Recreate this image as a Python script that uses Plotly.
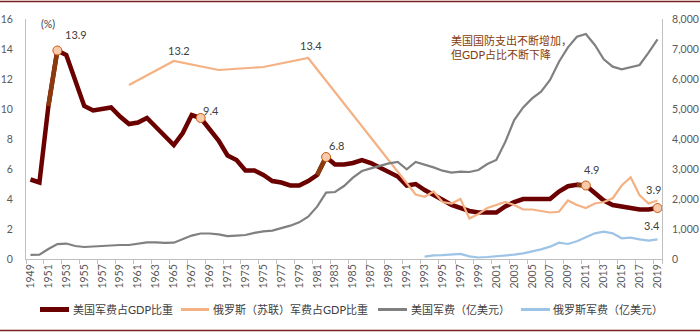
import plotly.graph_objects as go

# ---- data ----
years = list(range(1949, 2020))

# US military spending as share of GDP (%)
us_pct = [5.3, 5.1, 10.2, 13.9, 13.6, 11.9, 10.2, 9.9, 10.0, 10.1,
          9.5, 9.0, 9.1, 9.4, 8.8, 8.2, 7.6, 8.4, 9.6, 9.4,
          8.6, 7.9, 6.9, 6.6, 5.9, 5.9, 5.6, 5.2, 5.1, 4.9,
          4.9, 5.2, 5.6, 6.8, 6.3, 6.3, 6.4, 6.6, 6.4, 6.1,
          5.8, 5.5, 4.9, 5.0, 4.6, 4.3, 3.95, 3.6, 3.4, 3.2,
          3.1, 3.1, 3.1, 3.5, 3.8, 4.0, 4.0, 4.0, 4.0, 4.5,
          4.85, 4.95, 4.9, 4.4, 3.9, 3.6, 3.5, 3.4, 3.3, 3.3,
          3.4]

# Russia (USSR) military spending as share of GDP (%); gaps where no data
ru_pct_known = {1960: 11.6, 1965: 13.2, 1970: 12.6, 1975: 12.8, 1980: 13.4,
                1992: 4.3, 1993: 4.15, 1994: 4.5, 1995: 3.8, 1996: 3.7,
                1997: 4.0, 1998: 2.7, 1999: 3.0, 2000: 3.4, 2001: 3.6,
                2002: 3.8, 2003: 3.6, 2004: 3.3, 2005: 3.3, 2006: 3.2,
                2007: 3.1, 2008: 3.15, 2009: 3.9, 2010: 3.6, 2011: 3.4,
                2012: 3.7, 2013: 3.8, 2014: 4.05, 2015: 4.9, 2016: 5.45,
                2017: 4.25, 2018: 3.7, 2019: 3.9}
ru_pct = [ru_pct_known.get(y) for y in years]

# US military spending (100 million USD)
us_spend = [140, 145, 333, 495, 515, 433, 400, 420, 444, 455,
            467, 467, 500, 555, 555, 535, 545, 655, 780, 850,
            850, 820, 760, 780, 800, 870, 922, 944, 1022, 1111,
            1222, 1411, 1744, 2211, 2233, 2433, 2711, 2933, 3022, 3100,
            3189, 3233, 2989, 3233, 3155, 3055, 2944, 2878, 2911, 2900,
            2967, 3167, 3300, 3900, 4633, 5055, 5355, 5578, 5967, 6578,
            7055, 7411, 7500, 7133, 6655, 6411, 6322, 6389, 6467, 6878,
            7322]

# Russia military spending (100 million USD), from 1993
ru_spend_known = [80, 120, 130, 150, 170, 90, 50, 67, 89, 111,
                  144, 189, 244, 322, 411, 544, 500, 589, 722, 855,
                  911, 855, 689, 711, 655, 611, 655]
ru_spend = [None] * (1993 - 1949) + ru_spend_known

marked_years = [1952, 1968, 1982, 2011, 2019]
highlight_segments = [(1951, 1952), (1981, 1982), (2010, 2011)]

x_ticks = years[::2]
x_tick_text = [str(y) for y in x_ticks]
y_left_ticks = list(range(0, 17, 2))
y_right_ticks = list(range(0, 8001, 1000))

series_names = ["美国军费占GDP比重", "俄罗斯（苏联）军费占GDP比重",
                "美国军费（亿美元）", "俄罗斯军费（亿美元）"]

# ---- styling ----
C_US_PCT = "#6B0000"
C_US_SEG = "#8B3A0E"
C_RU_PCT = "#F4B183"
C_US_AMT = "#808080"
C_RU_AMT = "#9DC3E6"
C_TEXT = "#595959"
C_AXIS = "#BFBFBF"
FONT = "Lato, 'Noto Sans CJK SC', sans-serif"

W, H = 700, 333
ML, MR, MT, MB = 26, 38, 19, 74
PW, PH = W - ML - MR, H - MT - MB


def px_x(p):
    """pixel column -> paper x"""
    return (p - ML) / PW


def px_y(p):
    """pixel row -> paper y"""
    return (H - MB - p) / PH


idx = {y: i for i, y in enumerate(years)}

fig = go.Figure()

fig.add_trace(go.Scatter(
    x=years, y=us_pct, mode="lines", name=series_names[0],
    line=dict(color=C_US_PCT, width=4.5), yaxis="y"))

for a, b in highlight_segments:
    fig.add_trace(go.Scatter(
        x=[a, b], y=[us_pct[idx[a]], us_pct[idx[b]]], mode="lines",
        line=dict(color=C_US_SEG, width=4.5), hoverinfo="skip", yaxis="y"))

fig.add_trace(go.Scatter(
    x=years, y=ru_pct, mode="lines", name=series_names[1],
    connectgaps=True, line=dict(color=C_RU_PCT, width=2.2), yaxis="y"))

fig.add_trace(go.Scatter(
    x=years, y=us_spend, mode="lines", name=series_names[2],
    line=dict(color=C_US_AMT, width=2.2), yaxis="y2"))

fig.add_trace(go.Scatter(
    x=years, y=ru_spend, mode="lines", name=series_names[3],
    line=dict(color=C_RU_AMT, width=2.2), yaxis="y2"))

fig.add_trace(go.Scatter(
    x=marked_years, y=[us_pct[idx[y]] for y in marked_years], mode="markers",
    marker=dict(size=9, color="#F8CBAD", line=dict(color="#C55A11", width=1)),
    hoverinfo="skip", yaxis="y"))

# value labels
labels = [
    (1952, us_pct[idx[1952]], "13.9", 19, 16),
    (1968, us_pct[idx[1968]], "9.4", 10, 8),
    (1982, us_pct[idx[1982]], "6.8", 10, 12),
    (2011, us_pct[idx[2011]], "4.9", 6, 16),
    (2019, us_pct[idx[2019]], "3.4", -6, -17),
    (2019, ru_pct_known[2019], "3.9", -4, 11),
    (1965, ru_pct_known[1965], "13.2", 5, 11),
    (1980, ru_pct_known[1980], "13.4", 3, 13),
]
annotations = []
for x, y, t, dx, dy in labels:
    annotations.append(dict(
        x=x, y=y, xref="x", yref="y", text=t, showarrow=False,
        xshift=dx, yshift=dy, font=dict(size=11, color="#404040", family=FONT)))

annotations.append(dict(
    x=1950.0, y=15.65, xref="x", yref="y", text="(%)", showarrow=False,
    xanchor="left", font=dict(size=10.5, color="#404040", family=FONT)))

annotations.append(dict(
    x=1995.7, y=14.1, xref="x", yref="y", xanchor="left", yanchor="middle",
    text="美国国防支出不断增加，<br>但GDP占比不断下降", showarrow=False,
    align="left", font=dict(size=11, color="#843C0C", family=FONT)))

# legend row drawn below the axis
legend_items = [
    (series_names[0], C_US_PCT, 5, 40, 69, 71),
    (series_names[1], C_RU_PCT, 3, 181, 209, 211),
    (series_names[2], C_US_AMT, 3, 378, 407, 409),
    (series_names[3], C_RU_AMT, 3, 521, 550, 551),
]
LEG_Y = 309.5
shapes = []
for name, col, lw, x0, x1, tx in legend_items:
    shapes.append(dict(type="line", xref="paper", yref="paper",
                       x0=px_x(x0), x1=px_x(x1), y0=px_y(LEG_Y), y1=px_y(LEG_Y),
                       line=dict(color=col, width=lw)))
    annotations.append(dict(
        x=px_x(tx), y=px_y(LEG_Y), xref="paper", yref="paper", text=name,
        showarrow=False, xanchor="left", yanchor="middle",
        font=dict(size=11, color="#404040", family=FONT)))

# dark rules framing the chart
for ry in (1.5, 330.5):
    shapes.append(dict(type="line", xref="paper", yref="paper",
                       x0=px_x(0), x1=px_x(W), y0=px_y(ry), y1=px_y(ry),
                       line=dict(color="#7B1F1F", width=1.5)))

fig.update_layout(
    width=W, height=H,
    margin=dict(l=ML, r=MR, t=MT, b=MB),
    paper_bgcolor="white", plot_bgcolor="white",
    font=dict(family=FONT, size=11, color=C_TEXT),
    showlegend=False,
    xaxis=dict(
        range=[1948.5, 2019.5], tickmode="array", tickvals=x_ticks,
        ticktext=x_tick_text, tickangle=-90, ticks="", showgrid=False,
        zeroline=False, showline=True, linecolor=C_AXIS, linewidth=1,
        automargin=False, tickfont=dict(size=10.5, color=C_TEXT),
        minor=dict(tickmode="array",
                   tickvals=[1948.5 + 2 * k for k in range(36)] + [2019.5],
                   ticks="outside", ticklen=4, tickcolor=C_AXIS,
                   showgrid=False)),
    yaxis=dict(
        range=[0, 16], tickmode="array", tickvals=y_left_ticks,
        showgrid=False, zeroline=False, showline=True, linecolor=C_AXIS,
        ticks="", ticklabelstandoff=10, automargin=False,
        tickfont=dict(size=10.5, color=C_TEXT)),
    yaxis2=dict(
        range=[0, 8000], tickmode="array", tickvals=y_right_ticks,
        tickformat=",d", overlaying="y", side="right", showgrid=False,
        zeroline=False, showline=True, linecolor=C_AXIS, ticks="",
        ticklabelstandoff=7, automargin=False,
        tickfont=dict(size=10.5, color=C_TEXT)),
    annotations=annotations,
    shapes=shapes,
)

fig.write_html("out.html")
